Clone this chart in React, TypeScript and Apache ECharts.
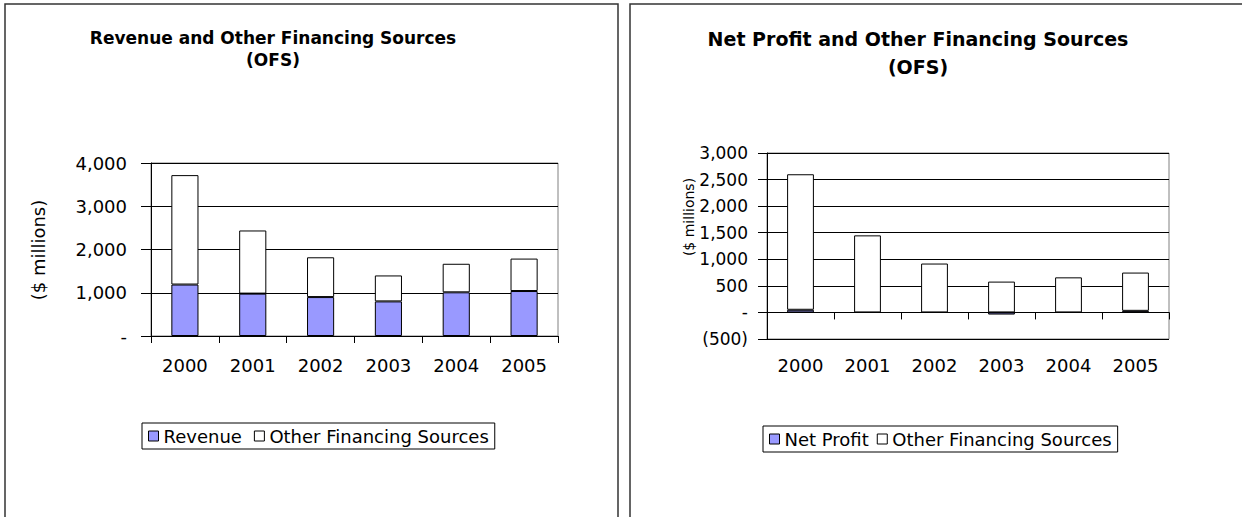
import React, { useEffect, useRef } from "react";
import * as echarts from "echarts";

const years = ["2000", "2001", "2002", "2003", "2004", "2005"];
const revenue = [1190, 980, 900, 800, 1010, 1040];
const ofsLeft = [2530, 1460, 920, 600, 660, 750];
const netProfit = [50, 0, 0, -40, 0, 30];
const ofsRight = [2550, 1450, 920, 580, 660, 720];

const FONT = "DejaVu Sans, Arial, sans-serif";
const BLUE = "#9999FF";

const fmt = (v: number) =>
  v === 0 ? "-" : v < 0 ? `(${Math.abs(v).toLocaleString("en-US")})` : v.toLocaleString("en-US");

export default function App() {
  const ref = useRef<HTMLDivElement>(null);
  useEffect(() => {
    if (!ref.current) return;
    const chart = echarts.init(ref.current, null, { renderer: "svg" });
    const barStyle = (color: string) => ({ color, borderColor: "#000", borderWidth: 1 });
    const txt = (text: string, x: number, y: number, size: number, bold: boolean, rotation = 0) => ({
      type: "text", x, y, rotation,
      style: { text, align: "center", verticalAlign: "middle", fontSize: size, fontWeight: bold ? "bold" : "normal", fontFamily: FONT, fill: "#000" },
    });
    chart.setOption({
      animation: false,
      backgroundColor: "#fff",
      grid: [
        { left: 151, top: 163, width: 407, height: 173, show: true, borderColor: "#808080", borderWidth: 1, backgroundColor: "#fff" },
        { left: 767, top: 153, width: 402, height: 186, show: true, borderColor: "#808080", borderWidth: 1, backgroundColor: "#fff" },
      ],
      xAxis: [
        {
          type: "category", gridIndex: 0, data: years,
          axisLine: { lineStyle: { color: "#000", width: 1 } },
          axisTick: { show: true, length: 7, lineStyle: { color: "#000" } },
          axisLabel: { color: "#000", fontSize: 18, fontFamily: FONT, margin: 20 },
        },
        {
          type: "category", gridIndex: 1, data: years,
          axisLine: { onZero: true, lineStyle: { color: "#000", width: 1 } },
          axisTick: { show: true, length: 7, lineStyle: { color: "#000" } },
          axisLabel: { show: false },
        },
        {
          type: "category", gridIndex: 1, data: years, position: "bottom",
          axisLine: { show: false, onZero: false },
          axisTick: { show: false },
          axisLabel: { color: "#000", fontSize: 18, fontFamily: FONT, margin: 17 },
        },
      ],
      yAxis: [
        {
          type: "value", gridIndex: 0, min: 0, max: 4000, interval: 1000,
          axisLine: { show: true, lineStyle: { color: "#000" } },
          axisTick: { show: true, length: 10, lineStyle: { color: "#000" } },
          splitLine: { lineStyle: { color: "#000", width: 1 } },
          axisLabel: { color: "#000", fontSize: 18, fontFamily: FONT, margin: 24, formatter: fmt },
        },
        {
          type: "value", gridIndex: 1, min: -500, max: 3000, interval: 500,
          axisLine: { show: true, lineStyle: { color: "#000" } },
          axisTick: { show: true, length: 9, lineStyle: { color: "#000" } },
          splitLine: { lineStyle: { color: "#000", width: 1 } },
          axisLabel: { color: "#000", fontSize: 17, fontFamily: FONT, margin: 19, formatter: fmt },
        },
      ],
      legend: [
        {
          left: 142, top: 423, padding: [4, 6], itemGap: 12, itemWidth: 10, itemHeight: 10,
          borderColor: "#000", borderWidth: 1, backgroundColor: "#fff",
          icon: "rect",
          itemStyle: { borderColor: "#000", borderWidth: 1 },
          textStyle: { fontSize: 18, fontFamily: FONT, color: "#000" },
          data: ["Revenue", "Other Financing Sources"],
        },
        {
          left: 763, top: 426, padding: [4, 6], itemGap: 8, itemWidth: 10, itemHeight: 10,
          borderColor: "#000", borderWidth: 1, backgroundColor: "#fff",
          icon: "rect",
          itemStyle: { borderColor: "#000", borderWidth: 1 },
          textStyle: { fontSize: 18, fontFamily: FONT, color: "#000" },
          data: ["Net Profit", "Other Financing Sources"],
        },
      ],
      series: [
        { name: "Revenue", type: "bar", stack: "left", xAxisIndex: 0, yAxisIndex: 0, barWidth: "40%", data: revenue, itemStyle: barStyle(BLUE) },
        { name: "Other Financing Sources", type: "bar", stack: "left", xAxisIndex: 0, yAxisIndex: 0, barWidth: "40%", data: ofsLeft, itemStyle: barStyle("#fff") },
        { name: "Net Profit", type: "bar", stack: "right", xAxisIndex: 1, yAxisIndex: 1, barWidth: "40%", data: netProfit, itemStyle: barStyle(BLUE) },
        { name: "Other Financing Sources", type: "bar", stack: "right", xAxisIndex: 1, yAxisIndex: 1, barWidth: "40%", data: ofsRight, itemStyle: barStyle("#fff") },
      ],
      graphic: [
        { type: "rect", shape: { x: 5, y: 4, width: 613, height: 530 }, style: { fill: "none", stroke: "#333", lineWidth: 1.5 }, z: -1 },
        { type: "rect", shape: { x: 630, y: 4, width: 630, height: 530 }, style: { fill: "none", stroke: "#333", lineWidth: 1.5 }, z: -1 },
        txt("Revenue and Other Financing Sources", 273, 38, 17, true),
        txt("(OFS)", 273, 60, 17, true),
        txt("Net Profit and Other Financing Sources", 918, 39, 19, true),
        txt("(OFS)", 918, 67, 19, true),
        txt("($ millions)", 38, 250, 18, false, Math.PI / 2),
        txt("($ millions)", 689, 217, 14, false, Math.PI / 2),
      ],
    });
    return () => chart.dispose();
  }, []);
  return <div ref={ref} style={{ position: "fixed", left: 0, top: 0, width: 1242, height: 517 }} />;
}
